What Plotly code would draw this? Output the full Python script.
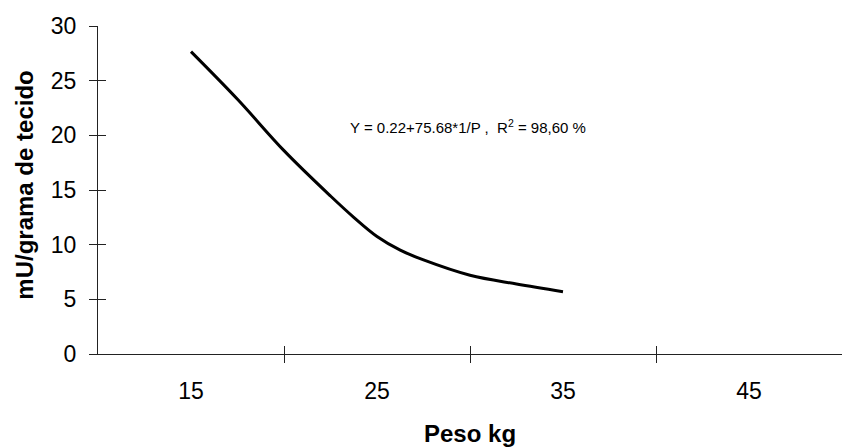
import plotly.graph_objects as go

# Data
peso = [15, 17.5, 20, 22.5, 23.75, 25, 26.25, 27.5, 30, 32.5, 35]
mu_grama = [27.66, 23.3, 18.6, 14.45, 12.5, 10.75, 9.5, 8.6, 7.2, 6.4, 5.7]

x_label_vals = [15, 25, 35, 45]
x_tick_marks = [20, 30, 40]
y_tick_vals = [0, 5, 10, 15, 20, 25, 30]

equation = "Y = 0.22+75.68*1/P ,  R<sup>2</sup> = 98,60 %"

FONT = "Liberation Sans, Arial, sans-serif"
AX = "#222222"

fig = go.Figure()
fig.add_trace(go.Scatter(
    x=peso, y=mu_grama, mode="lines",
    line=dict(color="black", width=3, shape="spline", smoothing=1.0),
    showlegend=False, hoverinfo="skip"))
# invisible trace to attach the overlay axes (inside tick marks)
fig.add_trace(go.Scatter(x=[10], y=[0], xaxis="x2", yaxis="y2",
                         mode="markers", marker=dict(opacity=0),
                         showlegend=False, hoverinfo="skip"))

fig.update_layout(
    width=843, height=448,
    margin=dict(l=98, r=1, t=26, b=94),
    paper_bgcolor="white", plot_bgcolor="white",
    font=dict(family=FONT, color="black", size=23),
    xaxis=dict(range=[10, 50], showgrid=False, zeroline=False,
               showline=True, linecolor=AX, linewidth=1, automargin=False,
               tickvals=x_label_vals, ticks="", ticklabelstandoff=16,
               tickfont=dict(size=23),
               minor=dict(tickvals=x_tick_marks, ticks="outside",
                          ticklen=8, tickcolor=AX, tickwidth=1),
               anchor="y"),
    yaxis=dict(range=[0, 30], showgrid=False, zeroline=False,
               showline=True, linecolor=AX, linewidth=1, automargin=False,
               tickvals=y_tick_vals, ticks="outside", ticklen=8,
               tickcolor=AX, tickwidth=1, ticklabelstandoff=8,
               tickfont=dict(size=23), anchor="x"),
    xaxis2=dict(range=[10, 50], overlaying="x", anchor="y", showgrid=False,
                zeroline=False, showline=False, showticklabels=False,
                automargin=False,
                tickvals=x_tick_marks, ticks="inside", ticklen=8,
                tickcolor=AX, tickwidth=1),
    yaxis2=dict(range=[0, 30], overlaying="y", anchor="x", side="left",
                showgrid=False, zeroline=False, showline=False,
                automargin=False,
                showticklabels=False, tickvals=y_tick_vals, ticks="inside",
                ticklen=8, tickcolor=AX, tickwidth=1),
)

fig.add_annotation(text=equation, x=29.9, y=20.8, xref="x", yref="y",
                   showarrow=False, font=dict(size=15, family=FONT))
fig.add_annotation(text="<b>mU/grama de tecido</b>", textangle=-90,
                   xref="paper", yref="paper", x=-0.1, y=0.515,
                   xanchor="center", yanchor="middle", showarrow=False,
                   font=dict(size=24, family=FONT))
fig.add_annotation(text="<b>Peso kg</b>", xref="paper", yref="paper",
                   x=0.5, y=-0.241, xanchor="center", yanchor="middle",
                   showarrow=False, font=dict(size=24, family=FONT))

fig.write_html("out.html",
               config={"displayModeBar": False},
               post_script="document.body.style.margin='0';"
                           "document.body.style.padding='0';")
